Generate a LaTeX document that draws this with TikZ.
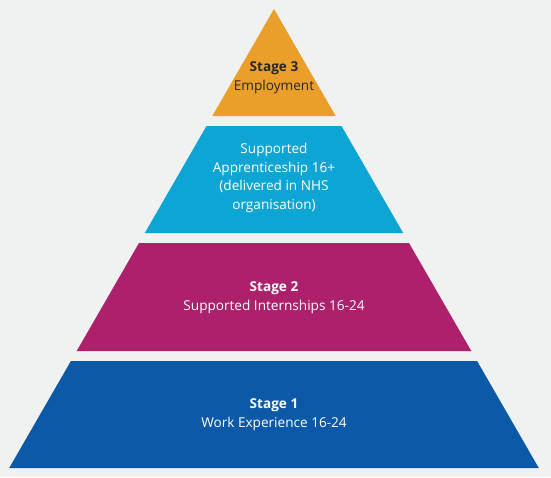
\documentclass[tikz,border=0pt]{standalone}
\usepackage{fontspec}
\setmainfont{Open Sans}
\usepackage{tikz}
\usetikzlibrary{positioning, calc}
\definecolor{bggrey}{RGB}{240, 241, 241}
\definecolor{stageorange}{RGB}{235, 159, 43}
\definecolor{stagecyan}{RGB}{13, 166, 212}
\definecolor{stagemagenta}{RGB}{173, 32, 108}
\definecolor{stageblue}{RGB}{12, 89, 168}
\definecolor{darktext}{RGB}{40, 40, 40}

\begin{document}
\begin{tikzpicture}[
    x=1pt, y=-1pt,
    label/.style={align=center, font=\fontsize{13.6}{18.7}\selectfont,
                  text=white, inner sep=0pt},
]
    % background and page size
    \fill[bggrey] (0,0) rectangle (551,477);
    \useasboundingbox (0,0) rectangle (551,477);

    % pyramid layers, top to bottom
    \fill[stageorange]  (274,9) -- (335.7,116) -- (212.3,116) -- cycle;
    \fill[stagecyan]    (206.5,126) -- (341.5,126) -- (403.2,233) -- (144.8,233) -- cycle;
    \fill[stagemagenta] (139,243) -- (409,243) -- (471.3,351) -- (76.7,351) -- cycle;
    \fill[stageblue]    (70.9,361) -- (477.1,361) -- (538.8,468) -- (9.2,468) -- cycle;

    \node[label, text=darktext] (s3)  at (274,78)  {\textbf{Stage 3}\\Employment};
    \node[label]                (sa)  at (274,178) {Supported\\Apprenticeship 16+\\(delivered in NHS\\organisation)};
    \node[label]                (s2)  at (274,298) {\textbf{Stage 2}\\Supported Internships 16-24};
    \node[label]                (s1)  at (274,415) {\textbf{Stage 1}\\Work Experience 16-24};
\end{tikzpicture}
\end{document}
